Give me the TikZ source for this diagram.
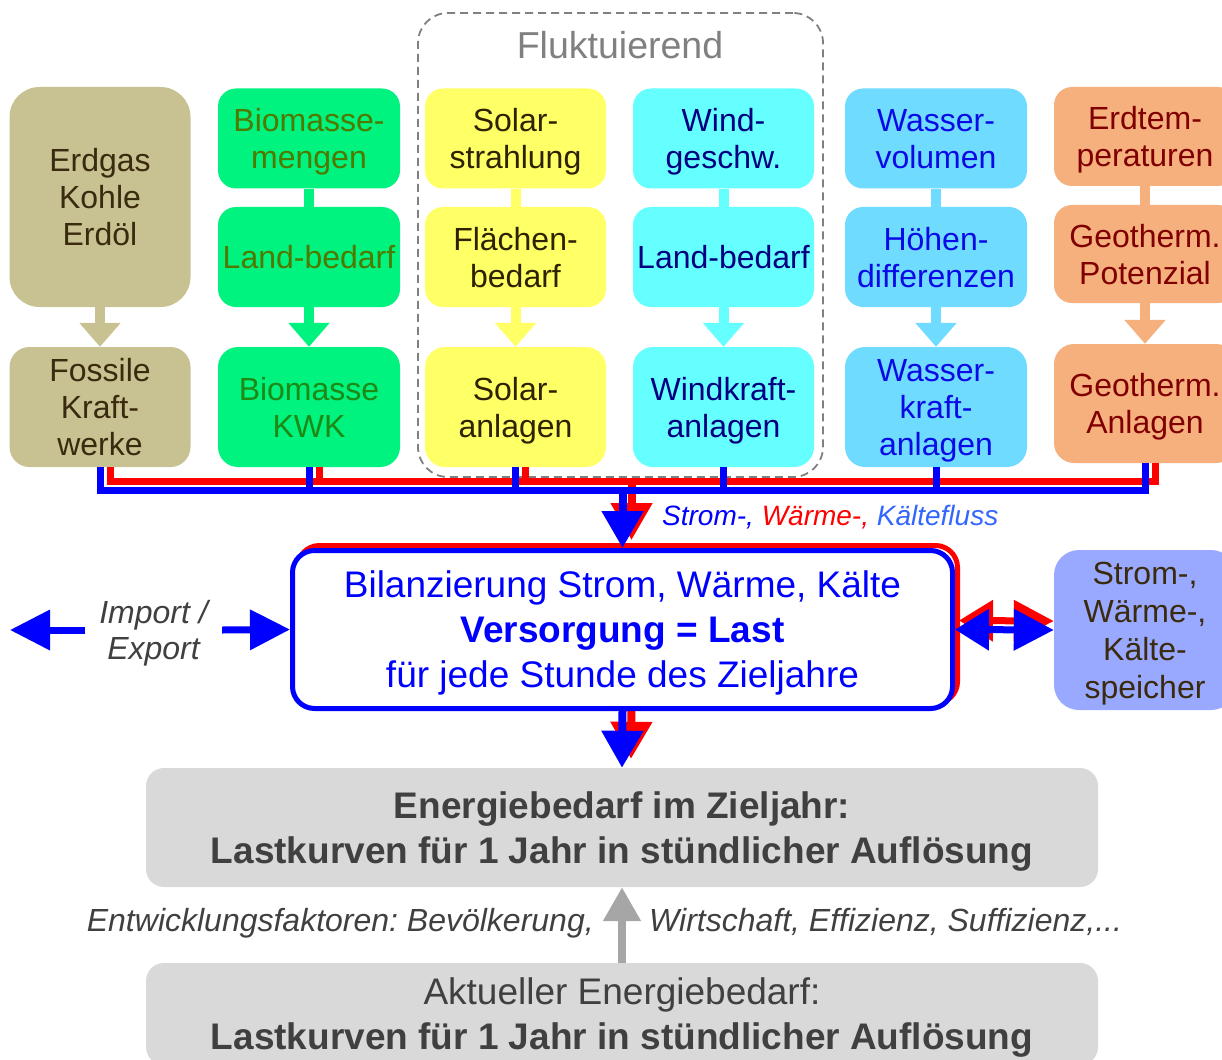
\documentclass[tikz,border=0pt]{standalone}
\usepackage{fontspec}
\setmainfont{Liberation Sans}
\usetikzlibrary{arrows.meta,positioning}

\definecolor{fosfill}{HTML}{C8C292}
\definecolor{fostext}{HTML}{3A2A0E}
\definecolor{biofill}{HTML}{00F27F}
\definecolor{biotext}{HTML}{4F7A00}
\definecolor{biotextb}{HTML}{1E8A14}
\definecolor{solfill}{HTML}{FFFF66}
\definecolor{soltext}{HTML}{2E2200}
\definecolor{windfill}{HTML}{66FFFF}
\definecolor{windtext}{HTML}{000080}
\definecolor{wasfill}{HTML}{6FDBFF}
\definecolor{wastext}{HTML}{0A0AE6}
\definecolor{geofill}{HTML}{F5B07E}
\definecolor{geotext}{HTML}{800000}
\definecolor{speifill}{HTML}{99A9FF}
\definecolor{graufill}{HTML}{D9D9D9}
\definecolor{grautext}{HTML}{404040}
\definecolor{pfeilgrau}{HTML}{A6A6A6}
\definecolor{kaelte}{HTML}{3366FF}

\pgfdeclarelayer{background}
\pgfsetlayers{background,main}
\frenchspacing

\begin{document}
\begin{tikzpicture}[
    x=1pt, y=-1pt,
    % Column boxes
    kasten/.style={
        rounded corners=18pt, inner sep=0pt, align=center,
        minimum width=181pt, minimum height=100pt, text depth=0pt,
        font={\fontsize{32}{37}\selectfont}
    },
    kfos/.style={kasten, fill=fosfill, text=fostext},
    kbio/.style={kasten, fill=biofill, text=biotext},
    ksol/.style={kasten, fill=solfill, text=soltext},
    kwind/.style={kasten, fill=windfill, text=windtext},
    kwas/.style={kasten, fill=wasfill, text=wastext},
    kgeo/.style={kasten, fill=geofill, text=geotext},
    % Balance and demand boxes
    kbilanz/.style={
        draw=blue, line width=5pt, fill=white, rounded corners=22pt,
        minimum width=660pt, minimum height=158pt, inner sep=0pt,
        text depth=0pt, align=center, text=blue,
        font={\fontsize{37}{45}\selectfont}
    },
    kgrau/.style={
        fill=graufill, rounded corners=18pt, inner sep=0pt,
        minimum width=952pt, align=center, text=grautext, text depth=0pt,
        font={\fontsize{37}{45}\selectfont}
    },
    kspei/.style={kasten, fill=speifill, text=fostext,
        rounded corners=25pt, minimum width=182pt, minimum height=160pt,
        font={\fontsize{32}{38}\selectfont}},
    % Labels
    beschr/.style={inner sep=0pt, align=center, text=grautext, text depth=0pt,
        font={\fontsize{32}{36}\selectfont\itshape}},
    % Connectors
    stiel/.style={line width=10pt},
    stielpfeil/.style={line width=10pt, -{Triangle[width=40pt,length=24pt]}},
    busr/.style={draw=red, line width=7pt},
    busb/.style={draw=blue, line width=7pt},
    flussb/.style={draw=blue, line width=8pt, -{Triangle[width=40pt,length=37pt]}},
    flussr/.style={draw=red, line width=8pt, -{Triangle[width=40pt,length=37pt]}},
    ioarrow/.style={draw=blue, line width=7pt, -{Triangle[width=39pt,length=40pt]}},
    speib/.style={draw=blue, line width=7pt,
        {Triangle[width=40pt,length=34pt]}-{Triangle[width=40pt,length=40pt]}},
    speir/.style={draw=red, line width=7pt,
        {Triangle[width=40pt,length=34pt]}-{Triangle[width=40pt,length=40pt]}},
    grauarrow/.style={draw=pfeilgrau, line width=8pt, -{Triangle[width=36pt,length=34pt]}}
]
\useasboundingbox (0,0) rectangle (1222,1059);

% ---- FLUCTUATING GROUP ----
\node[draw=gray, dashed, dash pattern=on 8pt off 5pt, line width=1.8pt,
      rounded corners=30pt, minimum width=405pt, minimum height=464pt]
      (fluk) at (620.5, 245) {};
\node[inner sep=0pt, text=gray, font={\fontsize{37.5}{40}\selectfont}]
      (fluk_lbl) at (620, 45) {Fluktuierend};

% ---- FOSSIL ----
\node[kfos, minimum height=220pt, rounded corners=30pt] (fos_roh) at (100, 197) {Erdgas\\Kohle\\Erdöl};
\node[kfos, minimum height=120pt, rounded corners=20pt] (fos_kw)  at (100, 407) {Fossile\\Kraft-\\werke};
\draw[stielpfeil, fosfill] (fos_roh.south) -- (fos_kw.north);

% ---- BIOMASS ----
\node[kbio, minimum width=182pt] (bio_menge) at (309, 138.5) {Biomasse-\\mengen};
\node[kbio, minimum width=182pt] (bio_land)  at (309, 257) {Land-bedarf};
\node[kbio, minimum width=182pt, minimum height=120pt, rounded corners=20pt,
      text=biotextb] (bio_kwk) at (309, 407) {Biomasse\\KWK};
\draw[stiel, biofill]      (bio_menge.south) -- (bio_land.north);
\draw[stielpfeil, biofill] (bio_land.south)  -- (bio_kwk.north);

% ---- SOLAR ----
\node[ksol] (sol_strahl) at (515.5, 138.5) {Solar-\\strahlung};
\node[ksol] (sol_flaech) at (515.5, 257) {Flächen-\\bedarf};
\node[ksol, minimum height=120pt, rounded corners=20pt] (sol_anl) at (515.5, 407) {Solar-\\anlagen};
\draw[stiel, solfill]      (sol_strahl.south) -- (sol_flaech.north);
\draw[stielpfeil, solfill] (sol_flaech.south) -- (sol_anl.north);

% ---- WIND ----
\node[kwind] (wind_v)    at (723.5, 138.5) {Wind-\\geschw.};
\node[kwind] (wind_land) at (723.5, 257) {Land-bedarf};
\node[kwind, minimum height=120pt, rounded corners=20pt] (wind_anl) at (723.5, 407) {Windkraft-\\anlagen};
\draw[stiel, windfill]      (wind_v.south)    -- (wind_land.north);
\draw[stielpfeil, windfill] (wind_land.south) -- (wind_anl.north);

% ---- HYDRO ----
\node[kwas, minimum width=182pt] (was_vol)   at (936, 138.5) {Wasser-\\volumen};
\node[kwas, minimum width=182pt] (was_hoehe) at (936, 257) {Höhen-\\differenzen};
\node[kwas, minimum width=182pt, minimum height=120pt, rounded corners=20pt]
      (was_anl) at (936, 407) {Wasser-\\kraft-\\anlagen};
\draw[stiel, wasfill]      (was_vol.south)   -- (was_hoehe.north);
\draw[stielpfeil, wasfill] (was_hoehe.south) -- (was_anl.north);

% ---- GEOTHERMAL ----
\node[kgeo, minimum width=182pt, minimum height=99pt] (geo_temp) at (1145, 136.5) {Erdtem-\\peraturen};
\node[kgeo, minimum width=182pt, minimum height=98pt] (geo_pot)  at (1145, 254) {Geotherm.\\Potenzial};
\node[kgeo, minimum width=182pt, minimum height=119pt, rounded corners=20pt]
      (geo_anl) at (1145, 403.5) {Geotherm.\\Anlagen};
\draw[stiel, geofill]      (geo_temp.south) -- (geo_pot.north);
\draw[stielpfeil, geofill] (geo_pot.south)  -- (geo_anl.north);

% ---- COLLECTING LINES (heat red, power blue) ----
\coordinate (bus_r) at (1155, 481);
\coordinate (bus_b) at (1145, 490);

\draw[busr] ([xshift=10pt]fos_kw.south) |- (bus_r) -- ([xshift=10pt]geo_anl.south);
\draw[busr] ([xshift=10pt]bio_kwk.south) -- ([xshift=10pt]bio_kwk.south |- bus_r);
\draw[busr] ([xshift=10pt]sol_anl.south) -- ([xshift=10pt]sol_anl.south |- bus_r);

\draw[busb] (fos_kw.south) |- (bus_b) -- (geo_anl.south);
\draw[busb] (bio_kwk.south)  -- (bio_kwk.south |- bus_b);
\draw[busb] (sol_anl.south)  -- (sol_anl.south |- bus_b);
\draw[busb] (wind_anl.south) -- (wind_anl.south |- bus_b);
\draw[busb] (was_anl.south)  -- (was_anl.south |- bus_b);

% ---- BALANCE ----
\node[kbilanz] (bilanz) at (622.5, 629.5)
    {Bilanzierung Strom, Wärme, Kälte\\\textbf{Versorgung = Last}\\für jede Stunde des Zieljahre};

\draw[flussb] (bilanz.north |- bus_b) -- (bilanz.north);
\node[anchor=west, inner sep=0pt, font={\fontsize{28}{32}\selectfont\itshape}]
      (fluss_lbl) at (662, 517)
      {\textcolor{blue}{Strom-,} \textcolor{red}{Wärme-,} \textcolor{kaelte}{Kältefluss}};

% Import / export
\node[beschr, minimum width=137pt] (imp_exp) at (153.5, 630) {Import /\\Export};
\coordinate (io_aus) at (10, 630);
\draw[ioarrow] (imp_exp.west) -- (io_aus);
\draw[ioarrow] (imp_exp.east) -- (bilanz.west);

% Storage
\node[kspei] (speicher) at (1145, 630) {Strom-,\\Wärme-,\\Kälte-\\speicher};
\draw[speib] (bilanz.east) -- (speicher.west);

% ---- DEMAND ----
\node[kgrau, minimum height=119pt] (bedarf_ziel) at (622, 827.5)
    {\textbf{Energiebedarf im Zieljahr:}\\\textbf{Lastkurven für 1 Jahr in stündlicher Auflösung}};
\node[kgrau, minimum height=102pt] (bedarf_akt) at (622, 1014)
    {Aktueller Energiebedarf:\\\textbf{Lastkurven für 1 Jahr in stündlicher Auflösung}};

\draw[flussb] (bilanz.south) -- (bedarf_ziel.north);
\draw[grauarrow] (bedarf_akt.north) -- (bedarf_ziel.south);

\node[beschr, anchor=east] (ent_l) at (594, 920) {Entwicklungsfaktoren: Bevölkerung,};
\node[beschr, anchor=west] (ent_r) at (649, 920) {Wirtschaft, Effizienz, Suffizienz,...};

% Red shadows behind the blue flows
\begin{pgfonlayer}{background}
\draw[draw=red, line width=5pt, rounded corners=22pt]
    ([shift={(7.5pt,7.5pt)}]bilanz.south west) rectangle ([shift={(2.5pt,2.5pt)}]bilanz.north east);
\draw[flussr] ([xshift=9pt]bilanz.north |- bus_r) -- ([shift={(9pt,8pt)}]bilanz.north);
\draw[flussr] ([shift={(9pt,5pt)}]bilanz.south) -- ([shift={(9pt,9pt)}]bedarf_ziel.north);
\draw[speir] ([shift={(4pt,9pt)}]bilanz.east) -- ([yshift=9pt]speicher.west);
\end{pgfonlayer}

\end{tikzpicture}
\end{document}
